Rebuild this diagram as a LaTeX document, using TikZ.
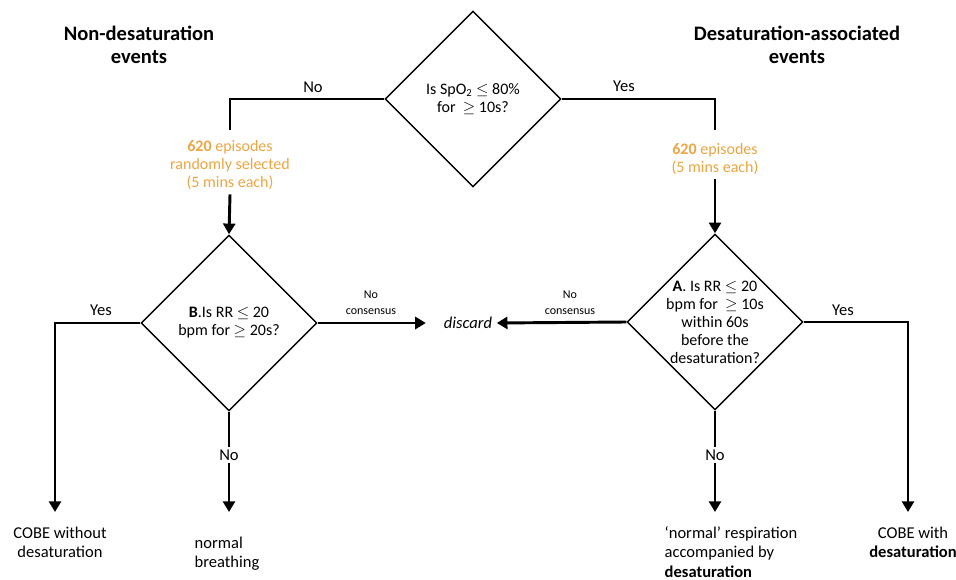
\documentclass[tikz,border=0pt]{standalone}
\usepackage{fontspec}
\setmainfont{Carlito}
\usetikzlibrary{arrows.meta}
\usetikzlibrary{shapes.geometric}
\definecolor{episode}{RGB}{237,165,66}

\begin{document}
\begin{tikzpicture}[x=0.75pt, y=-0.75pt,
		every node/.style={font=\fontsize{12.4}{14.5}\selectfont},
		decision/.style={diamond, draw, line width=1.1pt, minimum width=132pt, minimum height=132pt, inner sep=0pt, align=center, font=\fontsize{12}{13.5}\selectfont},
		head/.style={align=center, font=\fontsize{15.4}{17.5}\selectfont\bfseries},
		count/.style={align=center, text=episode, font=\fontsize{12}{13.5}\selectfont},
		answer/.style={inner sep=2pt},
		nocons/.style={align=center, font=\fontsize{9}{12}\selectfont},
		outcome/.style={align=center},
		flow/.style={line width=2.2pt},
		arrow/.style={flow, -{Triangle[length=8pt, width=9pt]}}
	]
	\useasboundingbox (0,0) rectangle (956,580);

	% headings
	\node[head] (hleft) at (139,45) {Non-desaturation\\events};
	\node[head] (hright) at (797,45) {Desaturation-associated\\events};

	% questions
	\node[decision] (q1) at (473,99) {Is SpO\textsubscript{2} $\leq$ 80\%\\for\ \ $\geq$ 10s?};
	\node[decision] (qb) at (229,323) {\textbf{B}.Is RR $\leq$ 20\\bpm for $\geq$ 20s?};
	\node[decision, inner sep=-6pt] (qa) at (715,322) {\textbf{A}. Is RR $\leq$ 20\\bpm for\ \ $\geq$ 10s\\within 60s\\before the\\desaturation?};

	% episode counts
	\node[count] (ep1) at (230,165) {\textbf{620} episodes\\randomly selected\\(5 mins each)};
	\node[count] (ep2) at (715,159) {\textbf{620} episodes\\(5 mins each)};
	\coordinate (c1) at (230,130);
	\coordinate (c2) at (715,130);

	\node[font=\fontsize{12.4}{14.5}\selectfont\itshape] (disc) at (468,323) {discard};

	% outcomes
	\node[outcome] (o1) at (60,542) {COBE without\\desaturation};
	\node[outcome, align=left, anchor=west] (o2) at (190,554) {normal\\breathing};
	\node[outcome, align=left, anchor=west] (o3) at (660,552) {`normal' respiration\\accompanied by\\\textbf{desaturation}};
	\node[outcome] (o4) at (913,542) {COBE with\\\textbf{desaturation}};
	\coordinate (e1) at (55,512);
	\coordinate (e2) at (229,512);
	\coordinate (e3) at (715,512);
	\coordinate (e4) at (908,512);

	% answers
	\node[answer] (n1) at (313,87) {No};
	\node[answer] (y1) at (624,86) {Yes};
	\node[answer] (yb) at (101,310) {Yes};
	\node[answer] (nb) at (229,455) {No};
	\node[answer] (ya) at (843,310) {Yes};
	\node[answer] (na) at (715,455) {No};
	\node[nocons] (ncb) at (371,303) {No\\consensus};
	\node[nocons] (nca) at (570,303) {No\\consensus};

	\draw[flow] (q1.west) -| (c1);
	\draw[flow] (q1.east) -| (c2);
	\draw[arrow] (ep1.south) -- (qb.north);
	\draw[arrow] (ep2.south) -- (qa.north);

	\draw[arrow] (qb.west) -| (e1);
	\draw[arrow, shorten >=10pt] (qb.east) -- (disc.west);
	\draw[flow] (qb.south) -- (nb.north);
	\draw[arrow] (nb.south) -- (e2);

	\draw[arrow] (qa.west) -- (disc.east);
	\draw[arrow] (qa.east) -| (e4);
	\draw[flow] (qa.south) -- (na.north);
	\draw[arrow] (na.south) -- (e3);
\end{tikzpicture}
\end{document}
